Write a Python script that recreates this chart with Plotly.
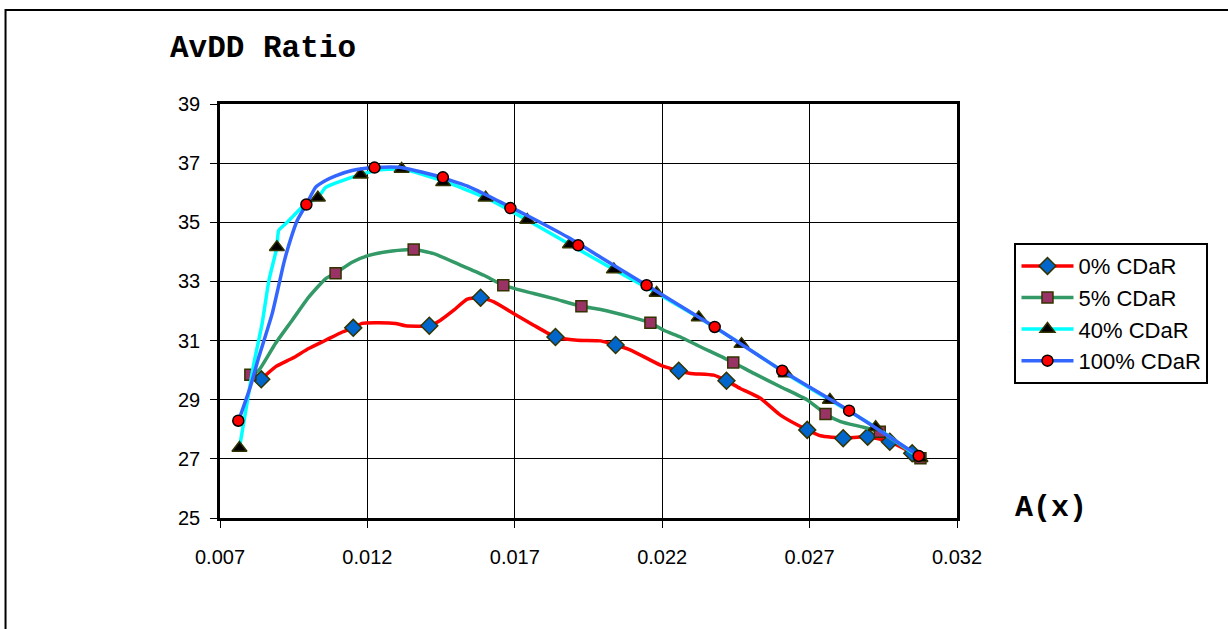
import plotly.graph_objects as go

# ---- data ----
SERIES_NAMES = ["0% CDaR", "5% CDaR", "40% CDaR", "100% CDaR"]

# 0% CDaR
CDAR0_CURVE_X = [0.00840, 0.00888, 0.00945, 0.01001, 0.01058, 0.01115, 0.01152, 0.01182, 0.01227,
                 0.01295, 0.01329, 0.01410, 0.01448, 0.01493, 0.01539, 0.01584, 0.01629, 0.01697,
                 0.01764, 0.01838, 0.01912, 0.01991, 0.02042, 0.02093, 0.02194, 0.02256, 0.02296,
                 0.02375, 0.02418, 0.02465, 0.02533, 0.02601, 0.02692, 0.02737, 0.02814, 0.02861,
                 0.02897, 0.02972, 0.03048, 0.03076]
CDAR0_CURVE_Y = [29.69, 30.11, 30.40, 30.73, 31.01, 31.29, 31.43, 31.58, 31.60,
                 31.58, 31.50, 31.50, 31.69, 32.03, 32.40, 32.45, 32.31, 31.91,
                 31.52, 31.12, 31.01, 30.99, 30.85, 30.68, 30.17, 29.98, 29.89,
                 29.83, 29.64, 29.38, 29.05, 28.48, 27.98, 27.78, 27.70, 27.73,
                 27.75, 27.58, 27.19, 27.03]
CDAR0_MARK_X = [0.00840, 0.01152, 0.01410, 0.01584, 0.01838, 0.02042, 0.02256, 0.02418,
                0.02692, 0.02814, 0.02897, 0.02972, 0.03048]
CDAR0_MARK_Y = [29.69, 31.43, 31.50, 32.45, 31.12, 30.85, 29.98, 29.64,
                27.98, 27.70, 27.75, 27.58, 27.19]

# 5% CDaR
CDAR5_CURVE_X = [0.00803, 0.00832, 0.00888, 0.00945, 0.01001, 0.01058, 0.01092, 0.01148, 0.01205,
                 0.01284, 0.01357, 0.01425, 0.01505, 0.01595, 0.01661, 0.01764, 0.01832, 0.01926,
                 0.01991, 0.02092, 0.02160, 0.02205, 0.02262, 0.02319, 0.02441, 0.02511, 0.02601,
                 0.02692, 0.02754, 0.02805, 0.02873, 0.02938, 0.03008, 0.03076]
CDAR5_CURVE_Y = [29.84, 30.00, 30.90, 31.69, 32.47, 33.09, 33.28, 33.65, 33.88,
                 34.03, 34.08, 33.94, 33.60, 33.21, 32.87, 32.59, 32.42, 32.16,
                 32.05, 31.80, 31.60, 31.35, 31.12, 30.84, 30.26, 29.89, 29.44,
                 28.99, 28.52, 28.26, 28.09, 27.92, 27.47, 27.02]
CDAR5_MARK_X = [0.00803, 0.01092, 0.01357, 0.01661, 0.01926, 0.02160, 0.02441, 0.02754,
                0.02938, 0.03076]
CDAR5_MARK_Y = [29.84, 33.28, 34.08, 32.87, 32.16, 31.60, 30.26, 28.52, 27.92, 27.02]

# 40% CDaR
CDAR40_CURVE_X = [0.00766, 0.00815, 0.00843, 0.00866, 0.00893, 0.00899, 0.00928, 0.00956, 0.00990,
                  0.01032, 0.01058, 0.01115, 0.01177, 0.01227, 0.01316, 0.01457, 0.01601, 0.01742,
                  0.01887, 0.02036, 0.02181, 0.02324, 0.02469, 0.02619, 0.02769, 0.02924, 0.03076]
CDAR40_CURVE_Y = [27.37, 30.23, 31.58, 33.04, 34.16, 34.72, 35.00, 35.29, 35.62,
                  35.83, 36.18, 36.41, 36.61, 36.75, 36.80, 36.40, 35.83, 35.08,
                  34.25, 33.40, 32.61, 31.78, 30.88, 29.89, 28.99, 28.07, 27.02]
CDAR40_MARK_X = [0.00766, 0.00893, 0.01032, 0.01177, 0.01316, 0.01457, 0.01601, 0.01742,
                 0.01887, 0.02036, 0.02181, 0.02324, 0.02469, 0.02619, 0.02769, 0.02924, 0.03076]
CDAR40_MARK_Y = [27.37, 34.16, 35.83, 36.61, 36.80, 36.35, 35.83, 35.08,
                 34.25, 33.40, 32.61, 31.78, 30.88, 29.89, 28.99, 28.07, 27.02]

# 100% CDaR
CDAR100_CURVE_X = [0.00763, 0.00803, 0.00832, 0.00877, 0.00916, 0.00928, 0.00962, 0.00993, 0.01024,
                   0.01058, 0.01092, 0.01148, 0.01224, 0.01306, 0.01424, 0.01540, 0.01652, 0.01763,
                   0.01879, 0.01991, 0.02147, 0.02378, 0.02607, 0.02834, 0.03070]
CDAR100_CURVE_Y = [28.29, 29.44, 30.45, 31.91, 33.60, 34.05, 35.06, 35.60, 36.18,
                   36.41, 36.57, 36.75, 36.85, 36.86, 36.60, 36.22, 35.68, 35.12,
                   34.50, 33.82, 32.87, 31.46, 29.98, 28.63, 27.10]
CDAR100_MARK_X = [0.00762, 0.00993, 0.01224, 0.01456, 0.01685, 0.01915, 0.02147, 0.02378,
                  0.02607, 0.02834, 0.03070]
CDAR100_MARK_Y = [28.29, 35.60, 36.85, 36.52, 35.48, 34.22, 32.87, 31.46,
                  29.98, 28.63, 27.10]

X_TICKS = [0.007, 0.012, 0.017, 0.022, 0.027, 0.032]
Y_TICKS = [25, 27, 29, 31, 33, 35, 37, 39]

# ---- styles ----
LINE_COLORS = ["#FF0000", "#339966", "#00FFFF", "#3366FF"]
MARKERS = [
    dict(symbol="diamond", size=13, color="#0066CC", line=dict(color="#333300", width=1.5)),
    dict(symbol="square", size=11, color="#993366", line=dict(color="#333300", width=1.5)),
    dict(symbol="triangle-up", size=13, color="#000000", line=dict(color="#333300", width=1.5)),
    dict(symbol="circle", size=11, color="#FF0000", line=dict(color="#000000", width=1.5)),
]

curves = [(CDAR0_CURVE_X, CDAR0_CURVE_Y), (CDAR5_CURVE_X, CDAR5_CURVE_Y),
          (CDAR40_CURVE_X, CDAR40_CURVE_Y), (CDAR100_CURVE_X, CDAR100_CURVE_Y)]
marks = [(CDAR0_MARK_X, CDAR0_MARK_Y), (CDAR5_MARK_X, CDAR5_MARK_Y),
         (CDAR40_MARK_X, CDAR40_MARK_Y), (CDAR100_MARK_X, CDAR100_MARK_Y)]

fig = go.Figure()
for i, name in enumerate(SERIES_NAMES):
    cx, cy = curves[i]
    mx, my = marks[i]
    fig.add_trace(go.Scatter(x=cx, y=cy, mode="lines", name=name, legendgroup=name,
                             showlegend=False, hoverinfo="skip",
                             line=dict(color=LINE_COLORS[i], width=3.5, shape="spline", smoothing=0.5)))
    fig.add_trace(go.Scatter(x=mx, y=my, mode="markers", name=name, legendgroup=name,
                             showlegend=False, marker=MARKERS[i]))
    fig.add_trace(go.Scatter(x=[None], y=[None], mode="lines+markers", name=name, legendgroup=name,
                             showlegend=True, line=dict(color=LINE_COLORS[i], width=3.5),
                             marker=MARKERS[i]))

tick_font = dict(family="Liberation Sans, Arial, sans-serif", size=20, color="#000000")

fig.update_layout(
    width=1228, height=629,
    margin=dict(l=219.5, r=271.3, t=104, b=110.7, autoexpand=False),
    paper_bgcolor="white", plot_bgcolor="white",
    showlegend=True,
    legend=dict(x=1.078, y=0.664, xanchor="left", yanchor="top",
                bordercolor="#000000", borderwidth=2, bgcolor="white",
                font=dict(family="Liberation Sans, Arial, sans-serif", size=22, color="#000000"),
                itemwidth=52, tracegroupgap=0),
    xaxis=dict(range=[0.007, 0.032], tickvals=X_TICKS, ticktext=[f"{v:.3f}" for v in X_TICKS],
               showgrid=True, gridcolor="#000000", gridwidth=1,
               showline=True, linecolor="#000000", linewidth=2.5, mirror=True,
               ticks="outside", ticklen=7, tickcolor="#000000", tickwidth=1,
               tickfont=tick_font, ticklabelstandoff=12, zeroline=False, fixedrange=True),
    yaxis=dict(range=[25, 39], tickvals=Y_TICKS, ticktext=[str(v) for v in Y_TICKS],
               showgrid=True, gridcolor="#000000", gridwidth=1,
               showline=True, linecolor="#000000", linewidth=2.5, mirror=True,
               ticks="outside", ticklen=7, tickcolor="#000000", tickwidth=1,
               tickfont=tick_font, ticklabelstandoff=6, zeroline=False, fixedrange=True),
    annotations=[
        dict(text="<b>AvDD Ratio</b>", xref="paper", yref="paper", x=-0.0699, y=1.135,
             xanchor="left", yanchor="middle", showarrow=False,
             font=dict(family="Liberation Mono, Courier New, monospace", size=31, color="#000000")),
        dict(text="<b>A(x)</b>", xref="paper", yref="paper", x=1.0764, y=0.0249,
             xanchor="left", yanchor="middle", showarrow=False,
             font=dict(family="Liberation Mono, Courier New, monospace", size=30, color="#000000")),
    ],
    shapes=[
        dict(type="rect", xref="paper", yref="paper", x0=-0.291, x1=1.6, y0=-0.6, y1=1.227,
             line=dict(color="#000000", width=2), fillcolor="rgba(0,0,0,0)", layer="below"),
    ],
)

fig.write_html("out.html", config={"displayModeBar": False},
               post_script="document.body.style.margin='0';document.body.style.overflow='hidden';")
